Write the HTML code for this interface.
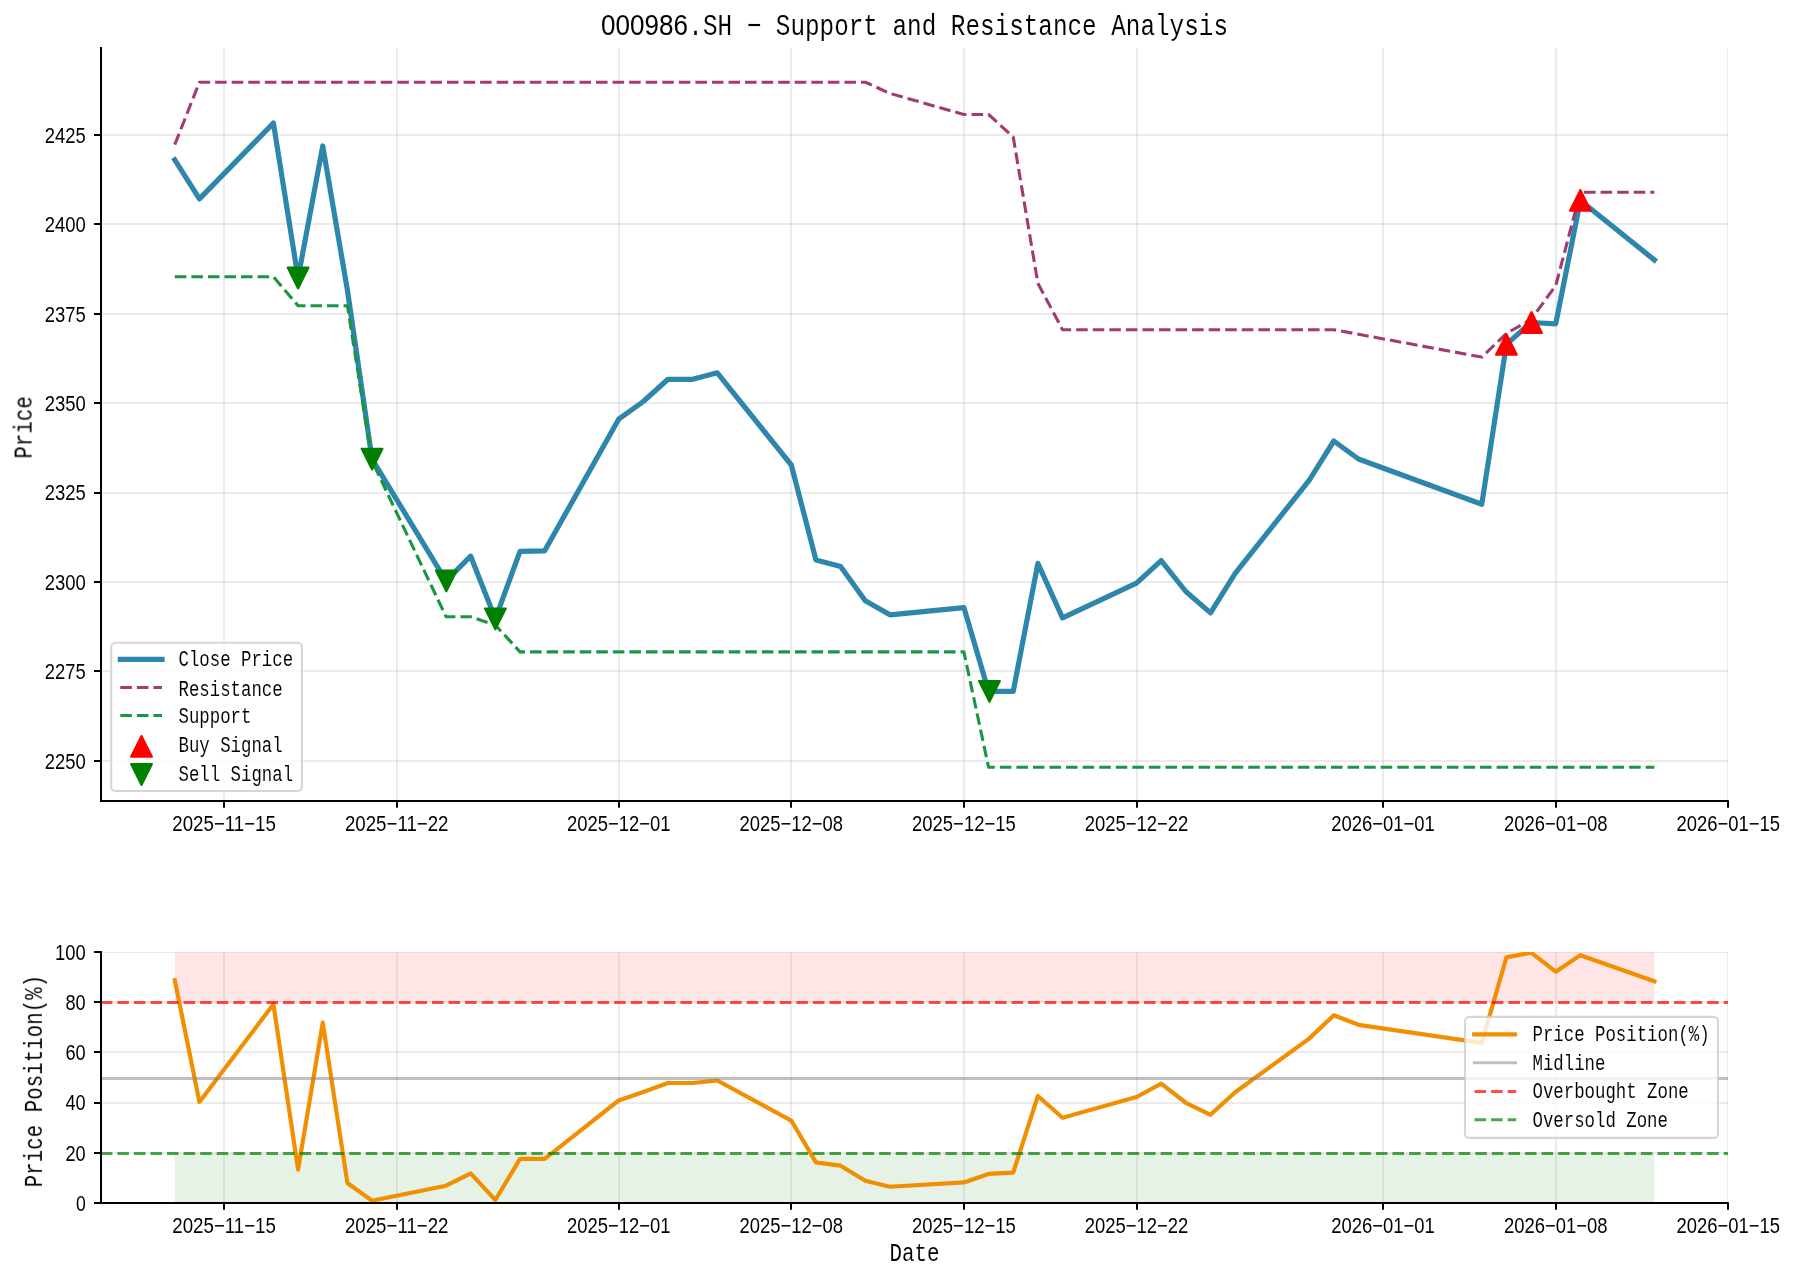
<!DOCTYPE html><html><head><meta charset="utf-8"><title>000986.SH - Support and Resistance Analysis</title>
<style>html,body{margin:0;padding:0;background:#fff}svg{display:block}text{fill:#000;stroke:#fff;stroke-width:0.08px}text.d{stroke:none}</style></head><body>
<svg width="1795" height="1280" viewBox="0 0 1795 1280">
<rect width="1795" height="1280" fill="#fff"/>
<defs><filter id="nf" filterUnits="userSpaceOnUse" x="0" y="0" width="1795" height="1280" color-interpolation-filters="sRGB"><feOffset dx="0" dy="0"/></filter></defs>
<g filter="url(#nf)">
<defs><clipPath id="c1"><rect x="100.8" y="47.7" width="1627.20" height="753.50"/></clipPath><clipPath id="c2"><rect x="100.8" y="952.0" width="1627.20" height="251.00"/></clipPath></defs>
<g id="ax1">
<g clip-path="url(#c1)">
<line x1="224" x2="224" y1="47.7" y2="801.2" stroke="#b0b0b0" stroke-opacity="0.26" stroke-width="2"/>
<line x1="397" x2="397" y1="47.7" y2="801.2" stroke="#b0b0b0" stroke-opacity="0.26" stroke-width="2"/>
<line x1="619" x2="619" y1="47.7" y2="801.2" stroke="#b0b0b0" stroke-opacity="0.26" stroke-width="2"/>
<line x1="791" x2="791" y1="47.7" y2="801.2" stroke="#b0b0b0" stroke-opacity="0.26" stroke-width="2"/>
<line x1="964" x2="964" y1="47.7" y2="801.2" stroke="#b0b0b0" stroke-opacity="0.26" stroke-width="2"/>
<line x1="1137" x2="1137" y1="47.7" y2="801.2" stroke="#b0b0b0" stroke-opacity="0.26" stroke-width="2"/>
<line x1="1383" x2="1383" y1="47.7" y2="801.2" stroke="#b0b0b0" stroke-opacity="0.26" stroke-width="2"/>
<line x1="1556" x2="1556" y1="47.7" y2="801.2" stroke="#b0b0b0" stroke-opacity="0.26" stroke-width="2"/>
<line x1="1728" x2="1728" y1="47.7" y2="801.2" stroke="#b0b0b0" stroke-opacity="0.26" stroke-width="2"/>
<line x1="100.8" x2="1728.0" y1="761" y2="761" stroke="#b0b0b0" stroke-opacity="0.26" stroke-width="2"/>
<line x1="100.8" x2="1728.0" y1="671" y2="671" stroke="#b0b0b0" stroke-opacity="0.26" stroke-width="2"/>
<line x1="100.8" x2="1728.0" y1="582" y2="582" stroke="#b0b0b0" stroke-opacity="0.26" stroke-width="2"/>
<line x1="100.8" x2="1728.0" y1="493" y2="493" stroke="#b0b0b0" stroke-opacity="0.26" stroke-width="2"/>
<line x1="100.8" x2="1728.0" y1="403" y2="403" stroke="#b0b0b0" stroke-opacity="0.26" stroke-width="2"/>
<line x1="100.8" x2="1728.0" y1="314" y2="314" stroke="#b0b0b0" stroke-opacity="0.26" stroke-width="2"/>
<line x1="100.8" x2="1728.0" y1="224" y2="224" stroke="#b0b0b0" stroke-opacity="0.26" stroke-width="2"/>
<line x1="100.8" x2="1728.0" y1="135" y2="135" stroke="#b0b0b0" stroke-opacity="0.26" stroke-width="2"/>
<polyline points="174.78,159.90 199.44,198.90 273.42,123.10 298.08,278.00 322.74,146.00 347.40,290.00 372.06,459.10 446.04,580.90 470.70,556.20 495.36,618.90 520.02,551.40 544.68,550.80 618.66,419.20 643.32,401.50 667.98,379.30 692.64,379.30 717.30,372.80 791.28,465.00 815.94,559.90 840.60,566.60 865.26,600.70 889.92,614.80 963.90,607.60 988.56,691.40 1013.22,691.40 1037.88,563.40 1062.54,617.90 1136.52,583.10 1161.18,560.60 1185.84,591.50 1210.50,612.90 1235.16,573.30 1309.14,480.30 1333.80,441.00 1358.46,459.00 1481.76,504.30 1506.42,344.40 1531.08,322.50 1555.74,323.80 1580.40,200.40 1654.38,260.00" fill="none" stroke="#2E86AB" stroke-width="5.2" stroke-linejoin="round" stroke-linecap="square"/>
<polyline points="174.78,144.60 199.44,82.20 865.26,82.20 889.92,93.40 963.90,114.50 988.56,114.50 1013.22,137.00 1037.88,283.30 1062.54,329.70 1333.80,329.70 1481.76,357.10 1506.42,333.40 1531.08,319.40 1555.74,285.60 1580.40,192.20 1654.38,192.20" stroke="#A23B72" stroke-dasharray="11.56 5" stroke-width="3.1" fill="none" stroke-linejoin="round"/>
<polyline points="174.78,276.80 273.42,276.80 298.08,305.70 347.40,305.70 372.06,461.00 446.04,616.70 470.70,616.70 495.36,625.10 520.02,651.90 963.90,651.90 988.56,767.20 1654.38,767.20" stroke="#1a9641" stroke-dasharray="11.56 5" stroke-width="3.1" fill="none" stroke-linejoin="round"/>
<path d="M1506.42 333.98 L1496.00 354.82 L1516.84 354.82 Z" fill="#ff0000" stroke="#ff0000" stroke-width="2.08" stroke-linejoin="round"/>
<path d="M1531.48 312.08 L1521.06 332.92 L1541.90 332.92 Z" fill="#ff0000" stroke="#ff0000" stroke-width="2.08" stroke-linejoin="round"/>
<path d="M1580.40 189.98 L1569.98 210.82 L1590.82 210.82 Z" fill="#ff0000" stroke="#ff0000" stroke-width="2.08" stroke-linejoin="round"/>
<path d="M298.08 288.42 L287.66 267.58 L308.50 267.58 Z" fill="#008000" stroke="#008000" stroke-width="2.08" stroke-linejoin="round"/>
<path d="M372.06 469.52 L361.64 448.68 L382.48 448.68 Z" fill="#008000" stroke="#008000" stroke-width="2.08" stroke-linejoin="round"/>
<path d="M446.34 591.32 L435.92 570.48 L456.76 570.48 Z" fill="#008000" stroke="#008000" stroke-width="2.08" stroke-linejoin="round"/>
<path d="M495.36 629.32 L484.94 608.48 L505.78 608.48 Z" fill="#008000" stroke="#008000" stroke-width="2.08" stroke-linejoin="round"/>
<path d="M989.46 701.82 L979.04 680.98 L999.88 680.98 Z" fill="#008000" stroke="#008000" stroke-width="2.08" stroke-linejoin="round"/>
</g>
<line x1="101" x2="101" y1="46.9" y2="802" stroke="#000" stroke-width="2" stroke-linecap="butt"/>
<line x1="100" x2="1728.80" y1="801" y2="801" stroke="#000" stroke-width="2" stroke-linecap="butt"/>
<line x1="224" x2="224" y1="801" y2="807.8" stroke="#000" stroke-width="2"/>
<text class="d" x="172.33" y="830.80" font-family="Liberation Sans, sans-serif" font-size="21.45" textLength="103.55" lengthAdjust="spacingAndGlyphs">2025−11−15</text>
<line x1="397" x2="397" y1="801" y2="807.8" stroke="#000" stroke-width="2"/>
<text class="d" x="344.95" y="830.80" font-family="Liberation Sans, sans-serif" font-size="21.45" textLength="103.55" lengthAdjust="spacingAndGlyphs">2025−11−22</text>
<line x1="619" x2="619" y1="801" y2="807.8" stroke="#000" stroke-width="2"/>
<text class="d" x="566.88" y="830.80" font-family="Liberation Sans, sans-serif" font-size="21.45" textLength="103.55" lengthAdjust="spacingAndGlyphs">2025−12−01</text>
<line x1="791" x2="791" y1="801" y2="807.8" stroke="#000" stroke-width="2"/>
<text class="d" x="739.50" y="830.80" font-family="Liberation Sans, sans-serif" font-size="21.45" textLength="103.55" lengthAdjust="spacingAndGlyphs">2025−12−08</text>
<line x1="964" x2="964" y1="801" y2="807.8" stroke="#000" stroke-width="2"/>
<text class="d" x="912.12" y="830.80" font-family="Liberation Sans, sans-serif" font-size="21.45" textLength="103.55" lengthAdjust="spacingAndGlyphs">2025−12−15</text>
<line x1="1137" x2="1137" y1="801" y2="807.8" stroke="#000" stroke-width="2"/>
<text class="d" x="1084.74" y="830.80" font-family="Liberation Sans, sans-serif" font-size="21.45" textLength="103.55" lengthAdjust="spacingAndGlyphs">2025−12−22</text>
<line x1="1383" x2="1383" y1="801" y2="807.8" stroke="#000" stroke-width="2"/>
<text class="d" x="1331.34" y="830.80" font-family="Liberation Sans, sans-serif" font-size="21.45" textLength="103.55" lengthAdjust="spacingAndGlyphs">2026−01−01</text>
<line x1="1556" x2="1556" y1="801" y2="807.8" stroke="#000" stroke-width="2"/>
<text class="d" x="1503.96" y="830.80" font-family="Liberation Sans, sans-serif" font-size="21.45" textLength="103.55" lengthAdjust="spacingAndGlyphs">2026−01−08</text>
<line x1="1728" x2="1728" y1="801" y2="807.8" stroke="#000" stroke-width="2"/>
<text class="d" x="1676.58" y="830.80" font-family="Liberation Sans, sans-serif" font-size="21.45" textLength="103.55" lengthAdjust="spacingAndGlyphs">2026−01−15</text>
<line x1="94" x2="101" y1="761" y2="761" stroke="#000" stroke-width="2"/>
<text class="d" x="44.64" y="768.66" font-family="Liberation Sans, sans-serif" font-size="21.45" textLength="41.06" lengthAdjust="spacingAndGlyphs">2250</text>
<line x1="94" x2="101" y1="671" y2="671" stroke="#000" stroke-width="2"/>
<text class="d" x="44.64" y="679.23" font-family="Liberation Sans, sans-serif" font-size="21.45" textLength="41.06" lengthAdjust="spacingAndGlyphs">2275</text>
<line x1="94" x2="101" y1="582" y2="582" stroke="#000" stroke-width="2"/>
<text class="d" x="44.64" y="589.80" font-family="Liberation Sans, sans-serif" font-size="21.45" textLength="41.06" lengthAdjust="spacingAndGlyphs">2300</text>
<line x1="94" x2="101" y1="493" y2="493" stroke="#000" stroke-width="2"/>
<text class="d" x="44.64" y="500.37" font-family="Liberation Sans, sans-serif" font-size="21.45" textLength="41.06" lengthAdjust="spacingAndGlyphs">2325</text>
<line x1="94" x2="101" y1="403" y2="403" stroke="#000" stroke-width="2"/>
<text class="d" x="44.64" y="410.94" font-family="Liberation Sans, sans-serif" font-size="21.45" textLength="41.06" lengthAdjust="spacingAndGlyphs">2350</text>
<line x1="94" x2="101" y1="314" y2="314" stroke="#000" stroke-width="2"/>
<text class="d" x="44.64" y="321.51" font-family="Liberation Sans, sans-serif" font-size="21.45" textLength="41.06" lengthAdjust="spacingAndGlyphs">2375</text>
<line x1="94" x2="101" y1="224" y2="224" stroke="#000" stroke-width="2"/>
<text class="d" x="44.64" y="232.08" font-family="Liberation Sans, sans-serif" font-size="21.45" textLength="41.06" lengthAdjust="spacingAndGlyphs">2400</text>
<line x1="94" x2="101" y1="135" y2="135" stroke="#000" stroke-width="2"/>
<text class="d" x="44.64" y="142.65" font-family="Liberation Sans, sans-serif" font-size="21.45" textLength="41.06" lengthAdjust="spacingAndGlyphs">2425</text>
<text x="0.75" y="427.40" font-family="Liberation Mono, monospace" font-size="25.00" textLength="62.50" lengthAdjust="spacingAndGlyphs" xml:space="preserve" transform="rotate(-90 32.00 427.40)">Price</text>
<text class="d" x="601.12" y="34.70" font-family="Liberation Sans, sans-serif" font-size="30.05" textLength="86.91" lengthAdjust="spacingAndGlyphs">000986</text>
<text x="688.33" y="34.70" font-family="Liberation Mono, monospace" font-size="30.05" textLength="539.64" lengthAdjust="spacingAndGlyphs" xml:space="preserve">.SH − Support and Resistance Analysis</text>
<rect x="111.2" y="642.8" width="190.7" height="148.2" rx="4.2" fill="#fff" fill-opacity="0.8" stroke="#ccc" stroke-opacity="0.8" stroke-width="2.08"/>
<line x1="120.3" x2="162" y1="659.4" y2="659.4" stroke="#2E86AB" stroke-width="5.2" stroke-linecap="square"/>
<line x1="120.3" x2="162" y1="687.5" y2="687.5" stroke="#A23B72" stroke-dasharray="11.56 5" stroke-width="3.1" fill="none" stroke-linejoin="round"/>
<line x1="120.3" x2="162" y1="715.5" y2="715.5" stroke="#1a9641" stroke-dasharray="11.56 5" stroke-width="3.1" fill="none" stroke-linejoin="round"/>
<path d="M141.50 735.98 L131.08 756.82 L151.92 756.82 Z" fill="#ff0000" stroke="#ff0000" stroke-width="2.08" stroke-linejoin="round"/>
<path d="M141.50 784.92 L131.08 764.08 L151.92 764.08 Z" fill="#008000" stroke="#008000" stroke-width="2.08" stroke-linejoin="round"/>
<text x="178.50" y="665.60" font-family="Liberation Mono, monospace" font-size="21.66" textLength="114.56" lengthAdjust="spacingAndGlyphs" xml:space="preserve">Close Price</text>
<text x="178.50" y="695.50" font-family="Liberation Mono, monospace" font-size="21.66" textLength="104.15" lengthAdjust="spacingAndGlyphs" xml:space="preserve">Resistance</text>
<text x="178.50" y="722.50" font-family="Liberation Mono, monospace" font-size="21.66" textLength="72.91" lengthAdjust="spacingAndGlyphs" xml:space="preserve">Support</text>
<text x="178.50" y="752.00" font-family="Liberation Mono, monospace" font-size="21.66" textLength="104.15" lengthAdjust="spacingAndGlyphs" xml:space="preserve">Buy Signal</text>
<text x="178.50" y="780.50" font-family="Liberation Mono, monospace" font-size="21.66" textLength="114.56" lengthAdjust="spacingAndGlyphs" xml:space="preserve">Sell Signal</text>
</g>
<g id="ax2">
<g clip-path="url(#c2)">
<rect x="174.78" y="952.0" width="1479.60" height="50.20" fill="#ff0000" fill-opacity="0.1"/>
<rect x="174.78" y="1152.80" width="1479.60" height="50.20" fill="#008000" fill-opacity="0.1"/>
<line x1="224" x2="224" y1="952.0" y2="1203.0" stroke="#b0b0b0" stroke-opacity="0.26" stroke-width="2"/>
<line x1="397" x2="397" y1="952.0" y2="1203.0" stroke="#b0b0b0" stroke-opacity="0.26" stroke-width="2"/>
<line x1="619" x2="619" y1="952.0" y2="1203.0" stroke="#b0b0b0" stroke-opacity="0.26" stroke-width="2"/>
<line x1="791" x2="791" y1="952.0" y2="1203.0" stroke="#b0b0b0" stroke-opacity="0.26" stroke-width="2"/>
<line x1="964" x2="964" y1="952.0" y2="1203.0" stroke="#b0b0b0" stroke-opacity="0.26" stroke-width="2"/>
<line x1="1137" x2="1137" y1="952.0" y2="1203.0" stroke="#b0b0b0" stroke-opacity="0.26" stroke-width="2"/>
<line x1="1383" x2="1383" y1="952.0" y2="1203.0" stroke="#b0b0b0" stroke-opacity="0.26" stroke-width="2"/>
<line x1="1556" x2="1556" y1="952.0" y2="1203.0" stroke="#b0b0b0" stroke-opacity="0.26" stroke-width="2"/>
<line x1="1728" x2="1728" y1="952.0" y2="1203.0" stroke="#b0b0b0" stroke-opacity="0.26" stroke-width="2"/>
<line x1="100.8" x2="1728.0" y1="1203" y2="1203" stroke="#b0b0b0" stroke-opacity="0.26" stroke-width="2"/>
<line x1="100.8" x2="1728.0" y1="1153" y2="1153" stroke="#b0b0b0" stroke-opacity="0.26" stroke-width="2"/>
<line x1="100.8" x2="1728.0" y1="1103" y2="1103" stroke="#b0b0b0" stroke-opacity="0.26" stroke-width="2"/>
<line x1="100.8" x2="1728.0" y1="1052" y2="1052" stroke="#b0b0b0" stroke-opacity="0.26" stroke-width="2"/>
<line x1="100.8" x2="1728.0" y1="1002" y2="1002" stroke="#b0b0b0" stroke-opacity="0.26" stroke-width="2"/>
<line x1="100.8" x2="1728.0" y1="952" y2="952" stroke="#b0b0b0" stroke-opacity="0.26" stroke-width="2"/>
<polyline points="174.78,980.22 199.44,1102.01 273.42,1004.27 298.08,1169.67 322.74,1022.57 347.40,1182.95 372.06,1200.74 446.04,1185.71 470.70,1173.43 495.36,1199.99 520.02,1158.89 544.68,1158.89 618.66,1100.50 643.32,1091.98 667.98,1082.96 692.64,1082.96 717.30,1080.46 791.28,1120.55 815.94,1162.40 840.60,1165.66 865.26,1180.70 889.92,1186.71 963.90,1182.45 988.56,1173.93 1013.22,1172.68 1037.88,1095.99 1062.54,1117.80 1136.52,1097.00 1161.18,1083.71 1185.84,1102.76 1210.50,1114.79 1235.16,1092.23 1309.14,1038.61 1333.80,1015.30 1358.46,1024.82 1481.76,1042.87 1506.42,957.41 1531.08,952.65 1555.74,971.70 1580.40,955.16 1654.38,981.22" fill="none" stroke="#F18F01" stroke-width="4.17" stroke-linejoin="round" stroke-linecap="square"/>
<line x1="100.8" x2="1728.0" y1="1078.5" y2="1078.5" stroke="#808080" stroke-opacity="0.5" stroke-width="3"/>
<line x1="100.8" x2="1728.0" y1="1002.5" y2="1002.5" stroke="#ff0000" stroke-dasharray="11.56 5" stroke-width="3" stroke-opacity="0.7"/>
<line x1="100.8" x2="1728.0" y1="1153.5" y2="1153.5" stroke="#008000" stroke-dasharray="11.56 5" stroke-width="3" stroke-opacity="0.7"/>
</g>
<line x1="101" x2="101" y1="951" y2="1204" stroke="#000" stroke-width="2" stroke-linecap="butt"/>
<line x1="100" x2="1728.80" y1="1203" y2="1203" stroke="#000" stroke-width="2" stroke-linecap="butt"/>
<line x1="224" x2="224" y1="1203" y2="1209.8" stroke="#000" stroke-width="2"/>
<text class="d" x="172.33" y="1233.00" font-family="Liberation Sans, sans-serif" font-size="21.45" textLength="103.55" lengthAdjust="spacingAndGlyphs">2025−11−15</text>
<line x1="397" x2="397" y1="1203" y2="1209.8" stroke="#000" stroke-width="2"/>
<text class="d" x="344.95" y="1233.00" font-family="Liberation Sans, sans-serif" font-size="21.45" textLength="103.55" lengthAdjust="spacingAndGlyphs">2025−11−22</text>
<line x1="619" x2="619" y1="1203" y2="1209.8" stroke="#000" stroke-width="2"/>
<text class="d" x="566.88" y="1233.00" font-family="Liberation Sans, sans-serif" font-size="21.45" textLength="103.55" lengthAdjust="spacingAndGlyphs">2025−12−01</text>
<line x1="791" x2="791" y1="1203" y2="1209.8" stroke="#000" stroke-width="2"/>
<text class="d" x="739.50" y="1233.00" font-family="Liberation Sans, sans-serif" font-size="21.45" textLength="103.55" lengthAdjust="spacingAndGlyphs">2025−12−08</text>
<line x1="964" x2="964" y1="1203" y2="1209.8" stroke="#000" stroke-width="2"/>
<text class="d" x="912.12" y="1233.00" font-family="Liberation Sans, sans-serif" font-size="21.45" textLength="103.55" lengthAdjust="spacingAndGlyphs">2025−12−15</text>
<line x1="1137" x2="1137" y1="1203" y2="1209.8" stroke="#000" stroke-width="2"/>
<text class="d" x="1084.74" y="1233.00" font-family="Liberation Sans, sans-serif" font-size="21.45" textLength="103.55" lengthAdjust="spacingAndGlyphs">2025−12−22</text>
<line x1="1383" x2="1383" y1="1203" y2="1209.8" stroke="#000" stroke-width="2"/>
<text class="d" x="1331.34" y="1233.00" font-family="Liberation Sans, sans-serif" font-size="21.45" textLength="103.55" lengthAdjust="spacingAndGlyphs">2026−01−01</text>
<line x1="1556" x2="1556" y1="1203" y2="1209.8" stroke="#000" stroke-width="2"/>
<text class="d" x="1503.96" y="1233.00" font-family="Liberation Sans, sans-serif" font-size="21.45" textLength="103.55" lengthAdjust="spacingAndGlyphs">2026−01−08</text>
<line x1="1728" x2="1728" y1="1203" y2="1209.8" stroke="#000" stroke-width="2"/>
<text class="d" x="1676.58" y="1233.00" font-family="Liberation Sans, sans-serif" font-size="21.45" textLength="103.55" lengthAdjust="spacingAndGlyphs">2026−01−15</text>
<line x1="94" x2="101" y1="1203" y2="1203" stroke="#000" stroke-width="2"/>
<text class="d" x="75.89" y="1210.80" font-family="Liberation Sans, sans-serif" font-size="21.45" textLength="9.81" lengthAdjust="spacingAndGlyphs">0</text>
<line x1="94" x2="101" y1="1153" y2="1153" stroke="#000" stroke-width="2"/>
<text class="d" x="65.47" y="1160.60" font-family="Liberation Sans, sans-serif" font-size="21.45" textLength="20.23" lengthAdjust="spacingAndGlyphs">20</text>
<line x1="94" x2="101" y1="1103" y2="1103" stroke="#000" stroke-width="2"/>
<text class="d" x="65.47" y="1110.40" font-family="Liberation Sans, sans-serif" font-size="21.45" textLength="20.23" lengthAdjust="spacingAndGlyphs">40</text>
<line x1="94" x2="101" y1="1052" y2="1052" stroke="#000" stroke-width="2"/>
<text class="d" x="65.47" y="1060.20" font-family="Liberation Sans, sans-serif" font-size="21.45" textLength="20.23" lengthAdjust="spacingAndGlyphs">60</text>
<line x1="94" x2="101" y1="1002" y2="1002" stroke="#000" stroke-width="2"/>
<text class="d" x="65.47" y="1010.00" font-family="Liberation Sans, sans-serif" font-size="21.45" textLength="20.23" lengthAdjust="spacingAndGlyphs">80</text>
<line x1="94" x2="101" y1="952" y2="952" stroke="#000" stroke-width="2"/>
<text class="d" x="55.05" y="959.80" font-family="Liberation Sans, sans-serif" font-size="21.45" textLength="30.64" lengthAdjust="spacingAndGlyphs">100</text>
<text x="-64.25" y="1081.10" font-family="Liberation Mono, monospace" font-size="25.00" textLength="212.50" lengthAdjust="spacingAndGlyphs" xml:space="preserve" transform="rotate(-90 42.00 1081.10)">Price Position(%)</text>
<text x="889.40" y="1260.60" font-family="Liberation Mono, monospace" font-size="25.00" textLength="50.00" lengthAdjust="spacingAndGlyphs" xml:space="preserve">Date</text>
<rect x="1465" y="1016.9" width="253" height="121" rx="4.2" fill="#fff" fill-opacity="0.8" stroke="#ccc" stroke-opacity="0.8" stroke-width="2.08"/>
<line x1="1474.2" x2="1514.9" y1="1034.3" y2="1034.3" stroke="#F18F01" stroke-width="4.17" stroke-linecap="square"/>
<line x1="1474.5" x2="1515.4" y1="1062.7" y2="1062.7" stroke="#808080" stroke-opacity="0.5" stroke-width="3.1" stroke-linecap="square"/>
<line x1="1474.5" x2="1516.2" y1="1091.4" y2="1091.4" stroke="#ff0000" stroke-dasharray="11.56 5" stroke-width="3" stroke-opacity="0.7"/>
<line x1="1474.5" x2="1516.2" y1="1119.8" y2="1119.8" stroke="#008000" stroke-dasharray="11.56 5" stroke-width="3" stroke-opacity="0.7"/>
<text x="1532.50" y="1041.20" font-family="Liberation Mono, monospace" font-size="21.66" textLength="177.05" lengthAdjust="spacingAndGlyphs" xml:space="preserve">Price Position(%)</text>
<text x="1532.50" y="1069.70" font-family="Liberation Mono, monospace" font-size="21.66" textLength="72.91" lengthAdjust="spacingAndGlyphs" xml:space="preserve">Midline</text>
<text x="1532.50" y="1098.20" font-family="Liberation Mono, monospace" font-size="21.66" textLength="156.22" lengthAdjust="spacingAndGlyphs" xml:space="preserve">Overbought Zone</text>
<text x="1532.50" y="1126.50" font-family="Liberation Mono, monospace" font-size="21.66" textLength="135.39" lengthAdjust="spacingAndGlyphs" xml:space="preserve">Oversold Zone</text>
</g>
</g>
</svg></body></html>
